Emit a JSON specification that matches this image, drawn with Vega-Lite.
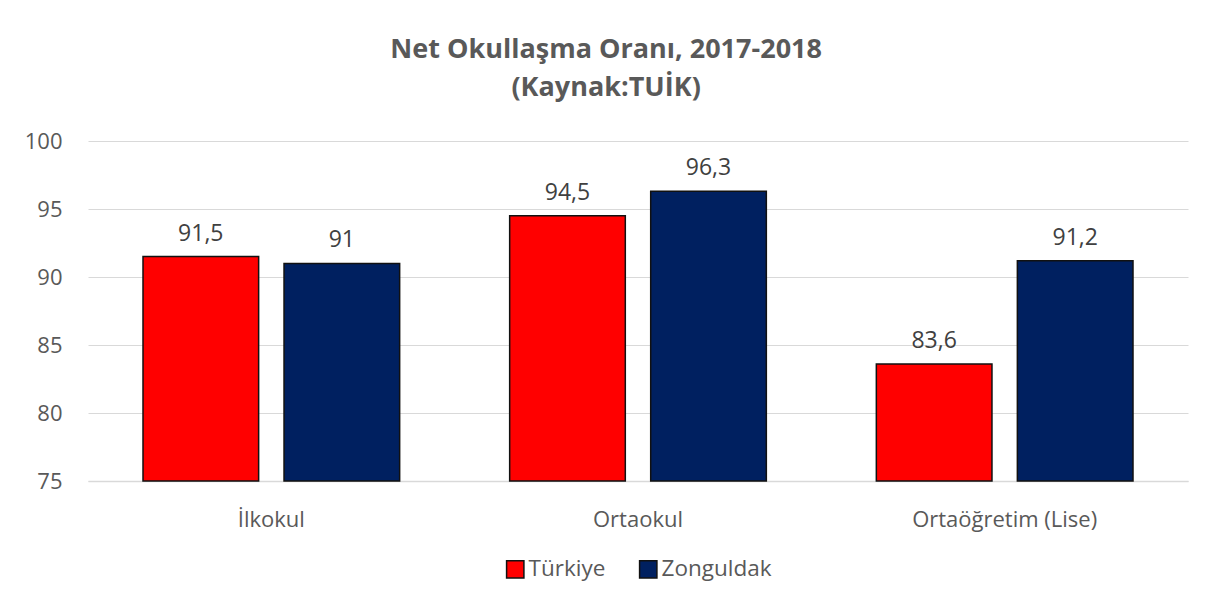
{
  "$schema": "https://vega.github.io/schema/vega-lite/v6.json",
  "width": 1213,
  "height": 606,
  "autosize": {"type": "fit", "contains": "padding"},
  "padding": {"left": 24, "right": 25, "top": 36, "bottom": 25},
  "background": "white",
  "title": {
    "text": ["Net Okullaşma Oranı, 2017-2018", "(Kaynak:TUİK)"],
    "font": "Open Sans",
    "fontSize": 27,
    "fontWeight": "bold",
    "color": "#595959",
    "anchor": "middle",
    "frame": "bounds",
    "lineHeight": 38,
    "offset": 28
  },
  "data": {
    "values": [
      {"kademe": "İlkokul", "bolge": "Türkiye", "oran": 91.5, "etiket": "91,5"},
      {"kademe": "İlkokul", "bolge": "Zonguldak", "oran": 91.0, "etiket": "91"},
      {"kademe": "Ortaokul", "bolge": "Türkiye", "oran": 94.5, "etiket": "94,5"},
      {"kademe": "Ortaokul", "bolge": "Zonguldak", "oran": 96.3, "etiket": "96,3"},
      {"kademe": "Ortaöğretim (Lise)", "bolge": "Türkiye", "oran": 83.6, "etiket": "83,6"},
      {"kademe": "Ortaöğretim (Lise)", "bolge": "Zonguldak", "oran": 91.2, "etiket": "91,2"}
    ]
  },
  "encoding": {
    "x": {
      "field": "kademe",
      "type": "nominal",
      "sort": ["İlkokul", "Ortaokul", "Ortaöğretim (Lise)"],
      "scale": {"paddingInner": 0.3, "paddingOuter": 0.15},
      "axis": {
        "title": null,
        "labelAngle": 0,
        "labelFont": "Open Sans",
        "labelFontSize": 22,
        "labelColor": "#595959",
        "labelPadding": 28,
        "labelLimit": 0,
        "ticks": false,
        "domainColor": "#d9d9d9",
        "domainWidth": 1.5
      }
    },
    "xOffset": {
      "field": "bolge",
      "type": "nominal",
      "scale": {"paddingInner": 0.18, "paddingOuter": 0}
    },
    "y": {
      "field": "oran",
      "type": "quantitative",
      "scale": {"domain": [75, 100], "zero": false, "clamp": true},
      "axis": {
        "title": null,
        "values": [75, 80, 85, 90, 95, 100],
        "labelFont": "Open Sans",
        "labelFontSize": 22,
        "labelColor": "#595959",
        "labelPadding": 26,
        "ticks": false,
        "domain": false,
        "gridColor": "#d9d9d9",
        "gridWidth": 1.2
      }
    }
  },
  "layer": [
    {
      "mark": {"type": "bar", "stroke": "#111111", "strokeWidth": 1.5},
      "encoding": {
        "color": {
          "field": "bolge",
          "type": "nominal",
          "scale": {"domain": ["Türkiye", "Zonguldak"], "range": ["#FF0000", "#002060"]},
          "legend": {
            "title": null,
            "orient": "bottom",
            "direction": "horizontal",
            "symbolType": "square",
            "symbolSize": 300,
            "symbolStrokeColor": "#111111",
            "symbolStrokeWidth": 1.5,
            "labelFont": "Open Sans",
            "labelFontSize": 22.5,
            "labelColor": "#595959",
            "labelOffset": 2,
            "columnPadding": 30,
            "offset": 28
          }
        }
      }
    },
    {
      "mark": {"type": "text", "dy": -23, "font": "Open Sans", "fontSize": 23, "color": "#404040"},
      "encoding": {"text": {"field": "etiket"}}
    }
  ],
  "config": {
    "view": {"stroke": null},
    "legend": {"layout": {"bottom": {"anchor": "middle"}}}
  }
}
